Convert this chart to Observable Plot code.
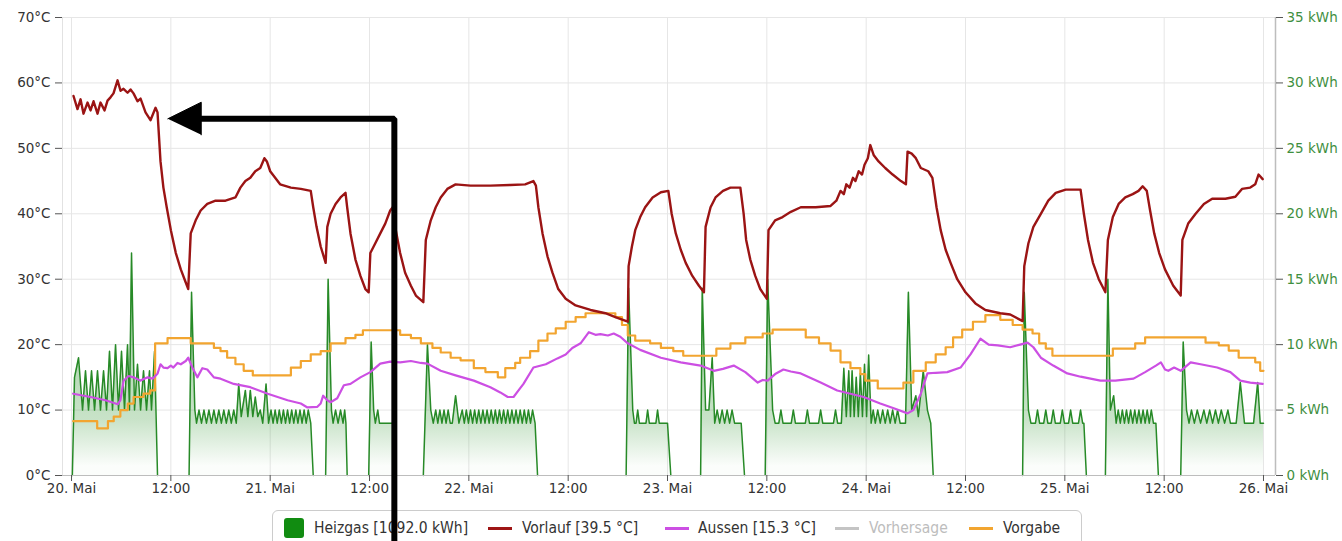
<!DOCTYPE html>
<html><head><meta charset="utf-8">
<script src="https://cdn.jsdelivr.net/npm/d3@7"></script>
<script src="https://cdn.jsdelivr.net/npm/@observablehq/plot@0.6"></script>
<style>
html,body{margin:0;padding:0;background:#fff;}
body{width:1342px;height:541px;overflow:hidden;position:relative;font-family:"DejaVu Sans",sans-serif;}
#chart{position:absolute;left:0;top:0;z-index:2;}
#chart svg{overflow:visible;display:block;}
#legend{position:absolute;left:272px;top:510px;width:810px;height:44px;border:1px solid #cccccc;border-radius:6px;box-sizing:border-box;background:#fff;z-index:1;
  font-family:"DejaVu Sans Condensed","DejaVu Sans",sans-serif;font-size:15.5px;color:#333;}
#legend .sq{position:absolute;top:7px;width:20px;height:20px;border-radius:3px;}
#legend .ln{position:absolute;top:16px;width:24px;height:3px;}
#legend .tx{position:absolute;top:7px;line-height:20px;white-space:nowrap;}
</style></head>
<body>
<div id="chart"></div>
<div id="legend"></div>
<script>
// ---- data (hours since 20. Mai 00:00, value) ----
const heizgasSegments = [
 [[0.1,0],[0.36,7.5],[0.85,9],[1.33,5],[1.69,8],[2.05,5],[2.42,8],[2.78,5],[3.14,8],[3.5,5],[3.87,8],[4.23,5],[4.59,9.5],[4.95,5],[5.32,10],[5.68,5],[6.04,9.5],[6.4,5],[6.77,10],[7.0,5],[7.25,17],[7.61,5],[7.97,8.5],[8.34,5],[8.7,8],[9.06,5],[9.42,8],[9.66,5],[10.03,9.5],[10.39,0]],
 [[14.2,0],[14.5,14],[14.9,5],[15.1,4],[15.4,5],[15.7,4],[16.0,5],[16.3,4],[16.6,5],[16.9,4],[17.2,5],[17.5,4],[17.8,5],[18.1,4],[18.4,5],[18.7,4],[19.0,5],[19.3,4],[19.6,5],[19.9,4],[20.2,7],[20.5,4.5],[21.0,6.5],[21.3,4.5],[21.6,6.5],[21.9,4.5],[22.2,6],[22.5,4.5],[22.8,5],[23.1,4],[23.5,7],[23.8,4],[24.1,5],[24.35,4],[24.6,5],[24.85,4],[25.1,5],[25.35,4],[25.6,5],[25.85,4],[26.1,5],[26.35,4],[26.6,5],[26.85,4],[27.1,5],[27.35,4],[27.6,5],[27.85,4],[28.1,5],[28.35,4],[28.6,5],[28.9,4],[29.2,0]],
 [[30.7,0],[31.0,15],[31.4,5],[31.6,4],[31.9,5],[32.2,4],[32.5,5],[32.8,4],[33.0,5],[33.15,4],[33.3,0]],
 [[35.9,0],[36.2,10.2],[36.5,5],[36.7,4],[37.0,5],[37.2,4],[38.9,4],[39.1,0]],
 [[42.5,0],[43.0,10],[43.4,5],[43.7,4],[44.0,5],[44.25,4],[44.5,5],[44.75,4],[45.0,5],[45.25,4],[45.5,5],[45.75,4],[46.0,4],[46.4,6.1],[46.8,4],[47.2,5],[47.45,4],[47.7,5],[47.95,4],[48.2,5],[48.45,4],[48.7,5],[48.95,4],[49.2,5],[49.45,4],[49.7,5],[49.95,4],[50.2,5],[50.45,4],[50.7,5],[50.95,4],[51.2,5],[51.45,4],[51.7,5],[51.95,4],[52.2,5],[52.45,4],[52.7,5],[52.95,4],[53.2,5],[53.45,4],[53.7,5],[53.95,4],[54.2,5],[54.45,4],[54.7,5],[54.95,4],[55.2,5],[55.45,4],[55.7,5],[56.0,4],[56.3,0]],
 [[67.0,0],[67.3,14.3],[67.8,5],[68.0,4],[68.2,4],[68.4,5],[68.6,4],[69.4,4],[69.6,5],[69.8,4],[70.6,4],[70.8,5],[71.0,4],[72.0,4],[72.4,0]],
 [[76.0,0],[76.2,14.3],[76.6,5],[77.0,5],[77.4,9],[77.7,4],[78.0,5],[78.3,4],[78.6,5],[78.9,4],[79.2,5],[79.5,4],[79.8,5],[80.1,4],[80.9,4],[81.3,0]],
 [[83.8,0],[84.1,15],[84.7,5],[85.0,4],[85.45,4],[85.7,5],[85.95,4],[86.95,4],[87.2,5],[87.45,4],[88.65,4],[88.9,5],[89.15,4],[90.25,4],[90.5,5],[90.75,4],[92.05,4],[92.3,5],[92.55,4],[93.0,4],[93.3,8.2],[93.6,4.5],[93.9,8],[94.1,4.5],[94.3,8],[94.55,4.5],[94.8,7.5],[95.05,4.5],[95.3,7.8],[95.55,4.5],[95.8,8.5],[96.05,4.5],[96.3,9.2],[96.6,4],[96.85,5],[97.1,4],[97.4,5],[97.7,4],[98.0,5],[98.3,4],[98.6,5],[98.9,4],[99.2,5],[99.5,4],[99.8,5],[100.1,4],[100.75,4],[101.1,14],[101.5,5],[102.0,6.1],[102.3,4.5],[102.9,8],[103.4,5],[103.8,4],[104.1,0]],
 [[114.9,0],[115.1,14],[115.6,5],[115.9,4],[116.45,4],[116.7,5],[116.95,4],[117.45,4],[117.7,5],[117.95,4],[118.35,4],[118.6,5],[118.85,4],[119.45,4],[119.7,5],[119.95,4],[120.45,4],[120.7,5],[120.95,4],[121.65,4],[121.9,5],[122.15,4],[122.3,4],[122.6,0]],
 [[124.9,0],[125.2,15],[125.5,5],[125.9,6.1],[126.2,4],[126.45,5],[126.7,4],[126.95,5],[127.2,4],[127.45,5],[127.7,4],[127.95,5],[128.2,4],[128.45,5],[128.7,4],[128.95,5],[129.2,4],[129.45,5],[129.7,4],[129.95,5],[130.2,4],[130.45,5],[130.7,4],[131.0,4],[131.3,0]],
 [[134.0,0],[134.3,10.2],[134.7,5],[135.0,4],[135.3,5],[135.65,4],[136.0,5],[136.4,4],[136.8,5],[137.15,4],[137.5,5],[137.85,4],[138.2,5],[138.55,4],[138.9,5],[139.3,4],[139.7,5],[140.0,4],[140.7,4],[141.2,7.1],[141.7,4],[142.8,4],[143.3,7.1],[143.6,4],[144.0,4]]
];
const vorlauf = [[0.24,58],[0.72,56],[1.09,57.5],[1.45,55.3],[1.93,57],[2.3,55.8],[2.66,57.2],[3.14,55.3],[3.5,57],[3.99,55.8],[4.35,57.3],[4.71,57.8],[5.07,58.4],[5.56,60.4],[5.92,58.8],[6.28,59.1],[6.77,58.5],[7.13,59],[7.49,58.4],[7.97,57.2],[8.34,57.6],[8.94,55.5],[9.54,54.3],[10.15,56.2],[10.39,55.5],
 [10.75,48],[11.1,44],[11.5,41],[12.0,37.5],[12.6,34],[13.2,31.5],[13.8,29.5],[14.1,28.5],
 [14.4,37],[15.0,39],[15.6,40.5],[16.4,41.5],[17.4,42],[18.6,42],[19.8,42.5],[20.4,44],[21.0,45],[21.6,45.5],[22.2,46.5],[22.8,47],[23.3,48.5],[23.6,48],[24.0,46.5],[24.6,45.5],[25.2,44.5],[26.5,44],[27.7,43.8],[28.9,43.5],
 [29.2,41],[29.6,38],[30.1,35],[30.7,32.5],
 [30.9,38],[31.3,40],[31.9,41.5],[32.5,42.5],[33.1,43.2],
 [33.3,41],[33.7,37],[34.3,33],[34.9,30.5],[35.5,28.5],[35.9,28],
 [36.1,34],[36.7,35.5],[37.3,37],[37.9,38.5],[38.5,40.5],[38.8,41],
 [39.1,38],[39.7,34],[40.3,31],[41.0,29],[41.6,27.5],[42.5,26.5],
 [42.8,36],[43.4,39],[44.0,41],[44.6,42.5],[45.4,43.8],[46.4,44.5],[48.2,44.3],[50.6,44.3],[53.0,44.4],[54.8,44.5],[55.8,45],[56.1,44.3],
 [56.4,41],[56.9,37],[57.5,33.5],[58.1,31],[58.8,28.5],[59.7,27],[60.9,26],[62.7,25.3],[64.5,24.8],[65.7,24.2],[67.2,23.5],
 [67.3,32],[67.7,35],[68.1,37.5],[68.7,39.5],[69.3,41],[70.2,42.5],[71.2,43.3],[72.1,43.5],
 [72.5,40],[73.0,37],[73.6,34.5],[74.2,32.5],[75.0,30.5],[75.8,29],[76.4,28],
 [76.6,38],[77.2,41],[77.8,42.5],[78.7,43.5],[79.6,44],[80.8,44],
 [81.2,40],[81.5,36],[82.0,33],[82.6,30.5],[83.2,28.5],[84.0,27],
 [84.2,37.5],[85.0,39],[85.9,39.5],[86.9,40.3],[88.1,41],[89.9,41],[91.7,41.2],[92.4,42],[92.9,43.5],[93.3,43],[93.6,44.5],[94.0,44],[94.4,45.5],[94.7,45],[95.1,46.5],[95.5,46],[95.8,47.5],[96.2,48.5],[96.5,50.5],[96.9,49],[97.5,48],[98.3,47],[99.2,46],[100.2,45],[100.8,44.5],[101.0,49.5],[101.5,49.2],[102.0,48.5],[102.6,47],[103.5,46.5],[104.0,45.5],
 [104.5,41],[105.0,37.5],[105.6,34.5],[106.2,32.5],[107.0,30],[108.0,28],[109.2,26.3],[110.4,25.3],[112.2,24.8],[113.4,24.6],[114.9,23.6],
 [115.1,32],[115.6,35.5],[116.2,38],[117.1,40],[118.0,42],[118.9,43.2],[120.1,43.7],[121.9,43.7],
 [122.3,40],[122.8,36],[123.4,32.5],[124.1,30],[124.9,28],
 [125.2,36],[125.8,39.5],[126.5,41.5],[127.3,42.5],[128.2,43],[128.9,43.5],[129.4,44.2],[129.9,43.5],
 [130.3,40.5],[130.8,37],[131.4,34],[132.1,31.5],[133.1,29],[134.0,27.5],
 [134.2,36],[134.9,38.5],[135.8,40],[136.8,41.5],[137.8,42.3],[139.4,42.3],[140.6,42.6],[141.4,43.8],[142.4,44],[143.0,44.5],[143.4,46],[143.9,45.3]];
const aussen = [[0.2,12.5],[2.3,12],[4.1,11.5],[5.6,10.9],[5.9,11.5],[6.3,14.5],[6.9,15.2],[7.5,15],[8.3,14.5],[9.2,15],[9.8,14.8],[10.4,15.6],[10.75,17],[11.1,16.5],[11.6,16.4],[12.0,16.8],[12.3,16.5],[12.8,17.2],[13.2,17],[13.8,17.5],[14.1,18],[14.6,16.5],[15.2,15],[15.8,16.4],[16.4,16.2],[17.2,15],[18.0,14.8],[19.6,14],[21.6,13.5],[23.7,12.5],[26.1,11.5],[27.7,11],[28.5,10.4],[29.7,10.5],[30.1,11],[30.4,12.2],[30.9,11.5],[31.3,11.2],[32.1,11.8],[32.9,13.8],[33.7,14],[34.9,15],[36.1,15.8],[37.3,17.1],[38.5,17.4],[39.7,17.3],[41.0,17.5],[42.2,17.2],[43.0,17.1],[44.6,16],[46.4,15.3],[48.6,14.5],[50.6,13.5],[51.8,12.7],[52.7,12],[53.4,12],[54.0,13],[54.6,14],[55.8,16.5],[57.3,17],[58.7,17.9],[59.7,18.5],[60.5,19.5],[61.5,20.2],[62.5,21.9],[63.3,21.5],[63.9,21.6],[64.8,21.4],[65.5,21.7],[66.3,21.2],[67.2,20.2],[68.7,19.2],[71.2,18],[73.6,17.3],[76.0,16.8],[77.6,16],[78.7,16.3],[80.0,16.8],[81.4,15.8],[82.9,14.2],[83.5,14.6],[84.1,14.5],[85.0,15.5],[86.0,16.2],[86.9,15.9],[88.1,15.6],[90.5,14.2],[92.5,13],[94.1,12.5],[95.7,12],[97.7,11],[99.5,10.2],[101.0,9.5],[101.7,10],[102.6,12.5],[103.4,15.6],[104.4,15.7],[105.8,15.8],[107.4,16.5],[108.6,18.5],[109.8,20.9],[110.8,20],[111.9,19.9],[113.4,19.6],[114.6,20],[115.5,20.3],[116.2,19.6],[117.1,18],[118.6,16.8],[120.3,15.6],[121.9,15.1],[124.3,14.5],[126.1,14.5],[128.3,14.8],[129.7,15.8],[131.0,16.8],[131.6,17.3],[132.1,16.2],[132.5,16],[133.2,16.5],[134.0,16],[135.2,17.3],[136.4,17],[138.4,16.5],[140.0,15.8],[141.2,14.5],[142.4,14.2],[143.9,14]];
const vorgabe = [[0.2,8.3],[3.1,7.2],[4.4,8.3],[5.1,9],[5.9,10],[6.8,11],[7.5,12],[8.7,12.5],[9.5,13],[10.1,20.2],[11.6,21],[14.4,20.2],[17.2,19.5],[18.0,19],[18.8,18],[19.8,17],[20.8,16],[21.9,15.3],[26.5,16.5],[27.7,17.5],[28.9,18.5],[30.1,19],[31.3,20.2],[33.1,21],[34.3,21.5],[35.2,22.2],[39.7,21.5],[41.0,21],[42.2,20.2],[43.6,19.5],[44.6,18.8],[45.8,18],[47.0,17.6],[48.6,16.4],[50.0,15.8],[51.5,15],[52.4,16.4],[53.6,17.2],[54.2,18],[55.4,19],[56.4,20.6],[57.5,21.7],[58.5,22.5],[59.7,23.5],[60.9,24.2],[62.1,24.8],[65.7,24.2],[66.5,23],[67.2,21.4],[68.1,20.6],[69.9,20.2],[71.2,19.5],[72.7,19],[73.9,18.3],[77.9,19.4],[79.6,20.2],[81.4,21.1],[83.5,21.7],[84.7,22.3],[88.7,21.1],[90.3,20.2],[91.7,19.1],[92.9,17.3],[94.1,16.4],[95.3,15.5],[95.9,14.5],[97.4,13.3],[100.5,14.2],[101.7,16],[103.2,17.3],[104.4,18.5],[105.6,19.6],[106.5,21.1],[107.6,22.3],[108.9,23.5],[110.4,24.5],[112.2,23.8],[113.7,23],[114.9,22.3],[116.1,21.7],[116.9,20.2],[117.7,19.4],[118.5,18.3],[125.8,19.4],[128.5,20.2],[129.7,21.1],[137.0,20.3],[138.6,19.9],[139.8,19.1],[141.0,18],[143.0,17.3],[143.6,16],[144.0,16]];
const xTickHours = [0,12,24,36,48,60,72,84,96,108,120,132,144];
const xTickLabels = ["20. Mai","12:00","21. Mai","12:00","22. Mai","12:00","23. Mai","12:00","24. Mai","12:00","25. Mai","12:00","26. Mai"];
const tempTicks = [0,10,20,30,40,50,60,70];
const tempTickLabels = ["0°C","10°C","20°C","30°C","40°C","50°C","60°C","70°C"];
const kwhTickLabels = ["0 kWh","5 kWh","10 kWh","15 kWh","20 kWh","25 kWh","30 kWh","35 kWh"];
const legendItems = [
  {label:"Heizgas [1092.0 kWh]", kind:"sq", color:"#118c11", symLeft:11, textLeft:41},
  {label:"Vorlauf [39.5 °C]", kind:"ln", color:"#9e1515", symLeft:215, textLeft:249},
  {label:"Aussen [15.3 °C]", kind:"ln", color:"#cc4fe3", symLeft:392, textLeft:425},
  {label:"Vorhersage", kind:"ln", color:"#c4c4c4", muted:true, symLeft:562, textLeft:596},
  {label:"Vorgabe", kind:"ln", color:"#f2a530", symLeft:696, textLeft:730}
];
// annotation arrow (hours, °C)
const arrowShaft = [[39.0,-14],[39.0,54.52],[15.3,54.52]];
const arrowHead = [[11.63,54.52],[15.67,57.05],[15.67,52.07]];

// ---- build ----
const base = Date.UTC(2015, 4, 20);
const T = h => new Date(base + h * 3600e3);
const heiz = heizgasSegments.flatMap((s, i) => s.map(([h, v]) => ({t: T(h), y: v * 2, seg: i})));
const toRows = arr => arr.map(([h, v]) => ({t: T(h), y: v}));
const xTicks = xTickHours.map(T);
const xLabel = new Map(xTicks.map((d, i) => [+d, xTickLabels[i]]));
const tLabel = new Map(tempTicks.map((d, i) => [d, tempTickLabels[i]]));
const kLabel = new Map(tempTicks.map((d, i) => [d, kwhTickLabels[i]]));
const x0 = T(-1.09), x1 = T(145.45);

const chart = Plot.plot({
  width: 1342, height: 505,
  marginLeft: 62, marginRight: 67, marginTop: 17, marginBottom: 30,
  x: {type: "utc", domain: [x0, x1], label: null},
  y: {domain: [0, 70], label: null},
  style: {fontFamily: "DejaVu Sans, sans-serif", fontSize: "13.5px", color: "#333", background: "transparent", overflow: "visible"},
  marks: [
    Plot.gridX(xTicks, {stroke: "#e6e6e6", strokeOpacity: 1}),
    Plot.gridY(tempTicks, {stroke: "#e6e6e6", strokeOpacity: 1}),
    Plot.ruleX([x0], {stroke: "#e2e2e2"}),
    Plot.areaY(heiz, {x: "t", y: "y", z: "seg", fill: "url(#heizFill)"}),
    Plot.lineY(heiz, {x: "t", y: "y", z: "seg", stroke: "#278a27", strokeWidth: 1.5}),
    Plot.lineY(toRows(vorgabe), {x: "t", y: "y", stroke: "#f2a530", strokeWidth: 2.2, curve: "step-after"}),
    Plot.lineY(toRows(aussen), {x: "t", y: "y", stroke: "#cc4fe3", strokeWidth: 2.2}),
    Plot.lineY(toRows(vorlauf), {x: "t", y: "y", stroke: "#9b1414", strokeWidth: 2.4}),
    Plot.ruleY([0], {stroke: "#bdbdbd", strokeWidth: 1.2}),
    Plot.ruleX([x1], {stroke: "#bdbdbd", strokeWidth: 1.5}),
    Plot.axisX(xTicks, {tickFormat: d => xLabel.get(+d), tickSize: 6, tickPadding: 2, stroke: "#555", fill: "#333", label: null}),
    Plot.axisY(tempTicks, {anchor: "left", tickFormat: d => tLabel.get(d), tickSize: 7, tickPadding: 5, stroke: "#555", fill: "#333", label: null}),
    Plot.axisY(tempTicks, {anchor: "right", tickFormat: d => kLabel.get(d), tickSize: 7, tickPadding: 4, stroke: "#555", fill: "#3f8f3f", label: null}),
    Plot.line(toRows(arrowShaft), {x: "t", y: "y", stroke: "black", strokeWidth: 6, strokeLinejoin: "miter", strokeLinecap: "butt", clip: false}),
    Plot.line(toRows(arrowHead), {x: "t", y: "y", fill: "black", stroke: "black", strokeWidth: 1, clip: false})
  ]
});

// gradient fill for Heizgas
const ys = chart.scale("y");
const ns = "http://www.w3.org/2000/svg";
const defs = document.createElementNS(ns, "defs");
const lg = document.createElementNS(ns, "linearGradient");
lg.setAttribute("id", "heizFill");
lg.setAttribute("gradientUnits", "userSpaceOnUse");
lg.setAttribute("x1", 0); lg.setAttribute("x2", 0);
lg.setAttribute("y1", ys.apply(34)); lg.setAttribute("y2", ys.apply(1.4));
[[0, 0.55], [0.78, 0.28], [1, 0.02]].forEach(([o, a]) => {
  const s = document.createElementNS(ns, "stop");
  s.setAttribute("offset", o);
  s.setAttribute("stop-color", "#3a9a3a");
  s.setAttribute("stop-opacity", a);
  lg.appendChild(s);
});
defs.appendChild(lg);
chart.insertBefore(defs, chart.firstChild);
document.getElementById("chart").appendChild(chart);

// legend
const leg = document.getElementById("legend");
legendItems.forEach(it => {
  const sym = document.createElement("span");
  sym.className = it.kind;
  sym.style.background = it.color;
  sym.style.left = it.symLeft + "px";
  const tx = document.createElement("span");
  tx.className = "tx";
  tx.style.left = it.textLeft + "px";
  tx.textContent = it.label;
  if (it.muted) tx.style.color = "#bdbdbd";
  leg.appendChild(sym); leg.appendChild(tx);
});
</script>
</body></html>
